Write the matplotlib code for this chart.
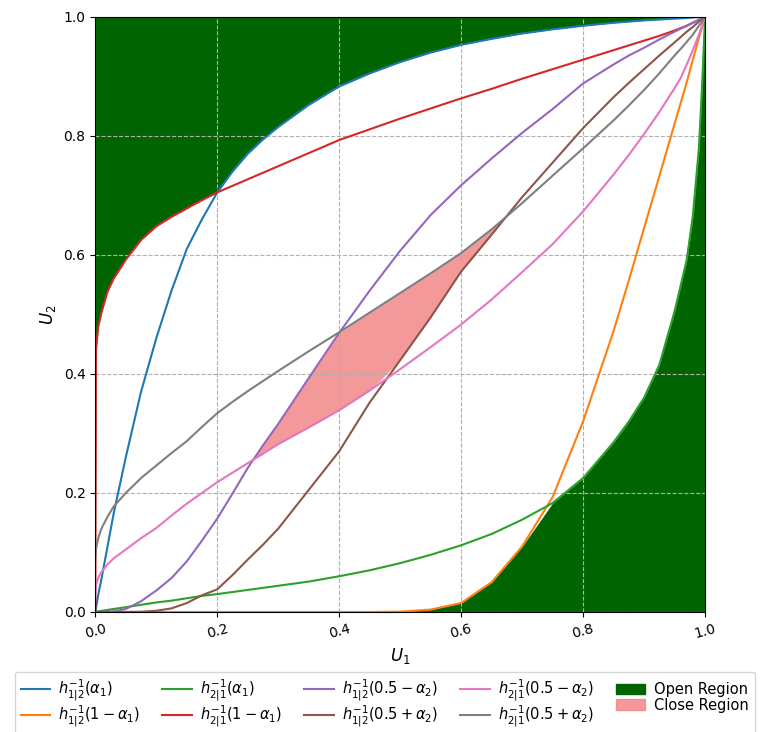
# %%
# Importing
# %%
import numpy as np
import matplotlib
matplotlib.use("Agg")
import matplotlib.pyplot as plt
from matplotlib.patches import Patch


# %%
# 1) Curve values (common U1 grid)
# %%
u1 = [0, 0.001, 0.005, 0.01, 0.02, 0.03, 0.05, 0.075, 0.1, 0.125, 0.15, 0.175,
      0.2, 0.225, 0.25, 0.275, 0.3, 0.35, 0.4, 0.45, 0.5, 0.55, 0.6, 0.65,
      0.7, 0.75, 0.8, 0.85, 0.875, 0.9, 0.925, 0.95, 0.96, 0.97, 0.98, 0.99,
      0.995, 1.0]

h12_a1 = [0, 0.006, 0.03, 0.055, 0.11, 0.165, 0.26, 0.37, 0.46, 0.54, 0.61, 0.66,
          0.705, 0.74, 0.77, 0.794, 0.815, 0.852, 0.883, 0.905, 0.924, 0.94, 0.953, 0.963,
          0.972, 0.979, 0.985, 0.99, 0.992, 0.994, 0.9955, 0.997, 0.9975, 0.998, 0.999, 0.9995,
          0.9998, 1.0]
h12_1ma1 = [0, 0, 0, 0, 0, 0, 0, 0, 0, 0, 0, 0,
            0, 0, 0, 0, 0, 0, 0, 0, 0.0005, 0.004, 0.015, 0.05,
            0.11, 0.193, 0.32, 0.472, 0.557, 0.645, 0.732, 0.82, 0.855, 0.89, 0.928, 0.965,
            0.982, 1.0]
h21_a1 = [0, 0.0002, 0.001, 0.0017, 0.0034, 0.005, 0.008, 0.012, 0.016, 0.019, 0.023, 0.027,
          0.03, 0.0335, 0.037, 0.0405, 0.044, 0.051, 0.06, 0.07, 0.082, 0.096, 0.112, 0.131,
          0.155, 0.183, 0.225, 0.285, 0.32, 0.36, 0.415, 0.505, 0.548, 0.592, 0.665, 0.78,
          0.88, 1.0]
h21_1ma1 = [0, 0.44, 0.48, 0.503, 0.538, 0.56, 0.592, 0.625, 0.648, 0.664, 0.678, 0.692,
            0.705, 0.716, 0.727, 0.738, 0.749, 0.771, 0.793, 0.811, 0.829, 0.846, 0.863, 0.879,
            0.896, 0.912, 0.928, 0.944, 0.952, 0.96, 0.968, 0.977, 0.981, 0.985, 0.99, 0.995,
            0.9975, 1.0]
h12_05ma2 = [0, 0, 0, 0, 0.0005, 0.001, 0.005, 0.018, 0.036, 0.057, 0.085, 0.12,
             0.157, 0.199, 0.242, 0.28, 0.316, 0.393, 0.469, 0.54, 0.607, 0.667, 0.717, 0.762,
             0.805, 0.845, 0.888, 0.92, 0.935, 0.948, 0.962, 0.975, 0.98, 0.985, 0.99, 0.995,
             0.9975, 1.0]
h12_05pa2 = [0, 0, 0, 0, 0, 0, 0, 0.0003, 0.002, 0.006, 0.015, 0.028,
             0.038, 0.062, 0.088, 0.113, 0.14, 0.205, 0.27, 0.352, 0.423, 0.495, 0.572, 0.634,
             0.697, 0.755, 0.813, 0.865, 0.889, 0.912, 0.935, 0.957, 0.966, 0.975, 0.983, 0.992,
             0.996, 1.0]
h21_05ma2 = [0.034, 0.045, 0.058, 0.067, 0.08, 0.09, 0.105, 0.124, 0.141, 0.162, 0.182, 0.2,
             0.218, 0.234, 0.25, 0.266, 0.282, 0.31, 0.339, 0.372, 0.408, 0.445, 0.483, 0.525,
             0.571, 0.618, 0.673, 0.735, 0.768, 0.803, 0.84, 0.88, 0.897, 0.92, 0.944, 0.97,
             0.985, 1.0]
h21_05pa2 = [0.09, 0.105, 0.125, 0.14, 0.16, 0.177, 0.2, 0.225, 0.246, 0.267, 0.287, 0.311,
             0.334, 0.353, 0.371, 0.388, 0.405, 0.438, 0.47, 0.503, 0.536, 0.569, 0.603, 0.643,
             0.687, 0.733, 0.779, 0.826, 0.851, 0.877, 0.905, 0.935, 0.946, 0.958, 0.97, 0.985,
             0.992, 1.0]

curves = [h12_a1, h12_1ma1, h21_a1, h21_1ma1,
          h12_05ma2, h12_05pa2, h21_05ma2, h21_05pa2]
labels = [
    r"$h^{-1}_{1|2}(\alpha_1)$",
    r"$h^{-1}_{1|2}(1-\alpha_1)$",
    r"$h^{-1}_{2|1}(\alpha_1)$",
    r"$h^{-1}_{2|1}(1-\alpha_1)$",
    r"$h^{-1}_{1|2}(0.5-\alpha_2)$",
    r"$h^{-1}_{1|2}(0.5+\alpha_2)$",
    r"$h^{-1}_{2|1}(0.5-\alpha_2)$",
    r"$h^{-1}_{2|1}(0.5+\alpha_2)$",
]
ticks = [0.0, 0.2, 0.4, 0.6, 0.8, 1.0]


# %%
# 2) Regions
# %%
x = np.array(u1)
top_edge = np.maximum(h12_a1, h21_1ma1)
bot_edge = np.minimum(h12_1ma1, h21_a1)
close_lo = np.maximum(h21_05ma2, h12_05pa2)
close_hi = np.minimum(h12_05ma2, h21_05pa2)


# %%
# 3) Plot
# %%
fig = plt.figure(figsize=(7.65, 7.32), dpi=100)
ax = fig.add_axes([0.1246, 0.164, 0.797, 0.813])

ax.fill_between(x, top_edge, 1.0, color="darkgreen", linewidth=0)
ax.fill_between(x, 0.0, bot_edge, color="darkgreen", linewidth=0)
ax.fill_between(x, close_lo, close_hi, where=close_hi > close_lo,
                interpolate=True, color="lightcoral", alpha=0.8, linewidth=0)

lines = []
for c, lab in zip(curves, labels):
    ln, = ax.plot(x, c, label=lab)
    lines.append(ln)

ax.set_xlim(0, 1)
ax.set_ylim(0, 1)
ax.set_xticks(ticks)
ax.set_yticks(ticks)
ax.tick_params(axis="x", labelrotation=15)
ax.grid(True, linestyle="--", color="#b0b0b0")
ax.set_xlabel(r"$U_1$", fontsize=12)
ax.set_ylabel(r"$U_2$", fontsize=12)

handles = lines + [Patch(color="darkgreen", label="Open Region"),
                   Patch(color="lightcoral", alpha=0.8, label="Close Region")]
fig.legend(handles=handles, ncol=5, loc="upper left",
           bbox_to_anchor=(0.0097, 0.0925), fontsize=10.5,
           labelspacing=0.05, handlelength=2.0, handletextpad=0.6,
           columnspacing=1.5)

fig.savefig("out.png", dpi=100)
